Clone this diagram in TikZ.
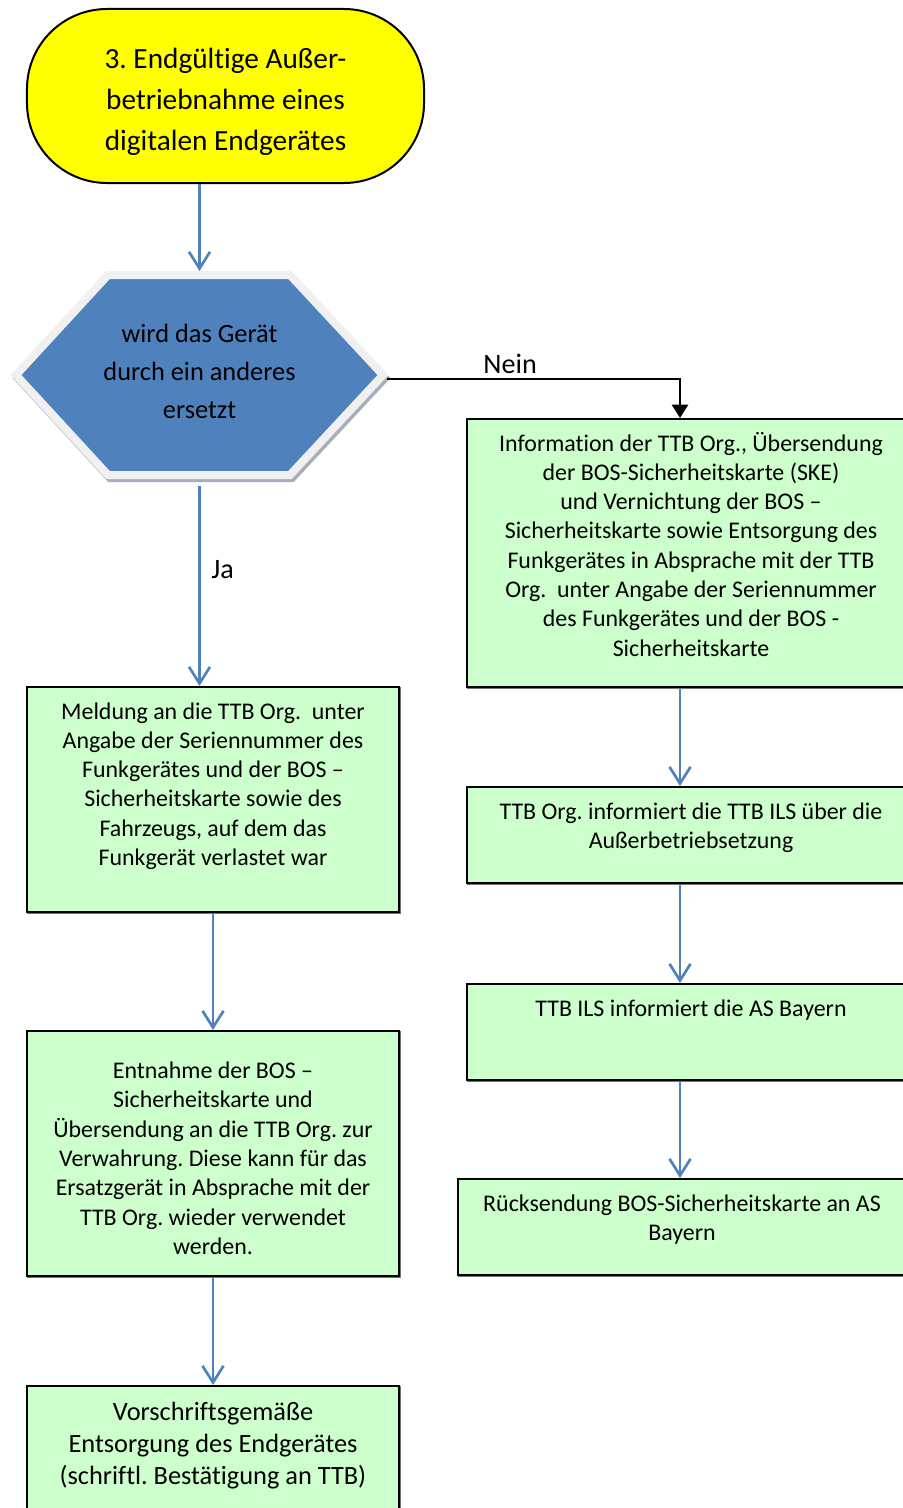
\documentclass[tikz,border=0pt]{standalone}
\usepackage{fontspec}
\setmainfont{Carlito}[Ligatures=NoCommon]
\usetikzlibrary{arrows.meta}
\frenchspacing

\definecolor{boxgreen}{HTML}{CCFFCC}
\definecolor{termyellow}{HTML}{FFFF00}
\definecolor{flowblue}{HTML}{4F81BD}
\definecolor{hexrim}{HTML}{F0F0F0}
\definecolor{hexshadow}{HTML}{A6AEBD}

% box contents: width, height, first baseline, text
\newcommand{\boxbody}[4]{\parbox[c][#2][t]{#1}{\centering\rule{0pt}{#3}#4}}

\begin{document}
\begin{tikzpicture}[x=0.03cm, y=-0.03cm,
    terminal/.style={draw, fill=termyellow, line width=0.6mm, rounded corners=2.4cm,
        inner sep=0pt, font=\fontsize{25}{35}\selectfont},
    hexshape/.style={fill=flowblue, draw=hexrim, line width=2.4mm, line join=miter,
        preaction={draw=hexshadow, line width=2.4mm, transform canvas={xshift=0.6mm, yshift=-0.9mm}}},
    decision/.style={inner sep=0pt, outer sep=1.2mm, font=\fontsize{22.5}{32.5}\selectfont},
    stepbox/.style={draw, fill=boxgreen, line width=0.6mm, inner sep=0pt, anchor=north west,
        preaction={draw=black!55, line width=0.6mm, transform canvas={xshift=0.3mm, yshift=-0.3mm}},
        font=\fontsize{20.4}{25}\selectfont},
    flow/.style={draw=flowblue, line width=0.8mm, -{Straight Barb[length=5mm, width=6.3mm]}},
    noflow/.style={draw=black, line width=0.8mm, -{Triangle[length=4mm, width=4.8mm]}},
    edgelabel/.style={font=\fontsize{24}{29}\selectfont}]

    \useasboundingbox (0,0) rectangle (903,1508);
    \clip (0,0) rectangle (903,1508);

    \node[terminal] (start) at (225.5,96) {\boxbody{11.91cm}{5.22cm}{1.77cm}{3. Endgültige Außer-\\betriebnahme eines\\digitalen Endgerätes}};

    % decision hexagon
    \path[hexshape] (16,375) -- (108,275) -- (290,275) -- (383,375) -- (290,475) -- (108,475) -- cycle;
    \node[decision] (decide) at (199.5,375) {\boxbody{11.01cm}{6cm}{2.01cm}{wird das Gerät\\durch ein anderes\\ersetzt}};

    % left column
    \node[stepbox] (meldung) at (26,686) {\boxbody{11.16cm}{6.75cm}{0.96cm}{Meldung an die TTB Org.\ \ unter\\Angabe der Seriennummer des\\Funkgerätes und der BOS –\\Sicherheitskarte sowie des\\Fahrzeugs, auf dem das\\Funkgerät verlastet war}};
    \node[stepbox] (entnahme) at (26,1030) {\boxbody{11.16cm}{7.35cm}{1.43cm}{Entnahme der BOS –\\Sicherheitskarte und\\Übersendung an die TTB Org. zur\\Verwahrung. Diese kann für das\\Ersatzgerät in Absprache mit der\\TTB Org. wieder verwendet\\werden.}};
    \node[stepbox, font=\fontsize{22.5}{27.5}\selectfont] (entsorgung) at (26,1385) {\boxbody{11.16cm}{4.2cm}{1.02cm}{Vorschriftsgemäße\\Entsorgung des Endgerätes\\(schriftl. Bestätigung an TTB)}};

    % right column
    \node[stepbox] (info) at (466,418) {\boxbody{13.44cm}{8.04cm}{0.96cm}{Information der TTB Org., Übersendung\\der BOS-Sicherheitskarte (SKE)\\und Vernichtung der BOS –\\Sicherheitskarte sowie Entsorgung des\\Funkgerätes in Absprache mit der TTB\\Org.\ \ unter Angabe der Seriennummer\\des Funkgerätes und der BOS -\\Sicherheitskarte}};
    \node[stepbox] (ttborg) at (466,786) {\boxbody{13.44cm}{2.88cm}{0.96cm}{TTB Org. informiert die TTB ILS über die\\Außerbetriebsetzung}};
    \node[stepbox] (ttbils) at (466,983) {\boxbody{13.44cm}{2.88cm}{0.96cm}{TTB ILS informiert die AS Bayern}};
    \node[stepbox] (ruecksendung) at (457,1178) {\boxbody{13.44cm}{2.88cm}{0.98cm}{Rücksendung BOS-Sicherheitskarte an AS\\Bayern}};

    \draw[flow] (decide.north |- start.south) -- (decide.north);
    \draw[flow] ([yshift=-2mm]decide.south) -- node[edgelabel, pos=0.42, right=2mm] (lblja) {Ja} (decide.south |- meldung.north);
    \draw[noflow] ([yshift=-1.2mm]decide.east) -| node[edgelabel, pos=0.21, above] (lblnein) {Nein} ([xshift=-3.3mm]info.north);
    \draw[flow] (meldung) -- (entnahme);
    \draw[flow] (entnahme) -- (entsorgung);
    \draw[flow] ([xshift=-3.3mm]info.south) -- ([xshift=-3.3mm]ttborg.north);
    \draw[flow] ([xshift=-3.3mm]ttborg.south) -- ([xshift=-3.3mm]ttbils.north);
    \draw[flow] ([xshift=-3.3mm]ttbils.south) -- ([xshift=-3.3mm]ttbils.south |- ruecksendung.north);
\end{tikzpicture}
\end{document}
